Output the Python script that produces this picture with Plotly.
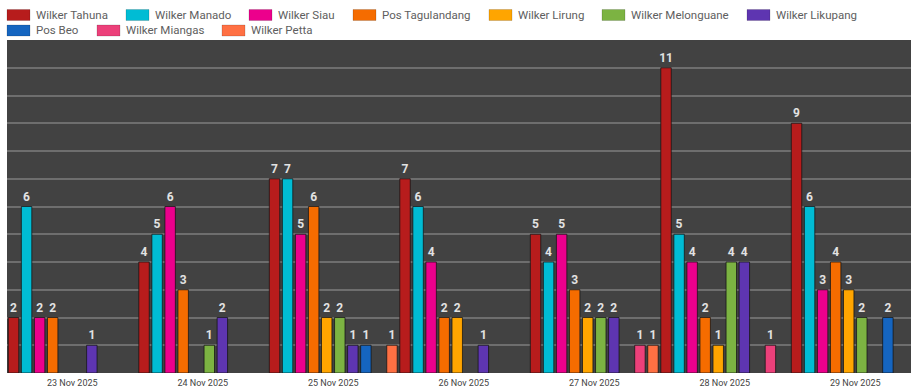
import plotly.graph_objects as go

# Daily counts per post, 23-29 Nov 2025 (None = no entry that day)
dates = ["23 Nov 2025", "24 Nov 2025", "25 Nov 2025", "26 Nov 2025",
         "27 Nov 2025", "28 Nov 2025", "29 Nov 2025"]

wilker_tahuna = [2, 4, 7, 7, 5, 11, 9]
wilker_manado = [6, 5, 7, 6, 4, 5, 6]
wilker_siau = [2, 6, 5, 4, 5, 4, 3]
pos_tagulandang = [2, 3, 6, 2, 3, 2, 4]
wilker_lirung = [None, None, 2, 2, 2, 1, 3]
wilker_melonguane = [None, 1, 2, None, 2, 4, 2]
wilker_likupang = [1, 2, 1, 1, 2, 4, None]
pos_beo = [None, None, 1, None, None, None, 2]
wilker_miangas = [None, None, None, None, 1, 1, None]
wilker_petta = [None, None, 1, None, 1, None, None]

series_names = ["Wilker Tahuna", "Wilker Manado", "Wilker Siau", "Pos Tagulandang",
                "Wilker Lirung", "Wilker Melonguane", "Wilker Likupang",
                "Pos Beo", "Wilker Miangas", "Wilker Petta"]
series_values = [wilker_tahuna, wilker_manado, wilker_siau, pos_tagulandang,
                 wilker_lirung, wilker_melonguane, wilker_likupang,
                 pos_beo, wilker_miangas, wilker_petta]
series_colors = ["#B71C1C", "#00BCD4", "#EC008C", "#F56C00", "#FFA500",
                 "#7CB342", "#5E35B1", "#1565C0", "#EC407A", "#FF7043"]

W, H = 911, 390
ML, MR, MT, MB = 7, 0, 40, 17
PW, PH = W - ML - MR, H - MT - MB
CAT_W = 130.5  # pixel width of one date group

fig = go.Figure()
for name, vals, col in zip(series_names, series_values, series_colors):
    fig.add_trace(go.Bar(
        x=dates, y=vals, name=name,
        marker=dict(color=col, line=dict(color="rgba(20,20,20,0.75)", width=1)),
        text=[("" if v is None else str(v)) for v in vals],
        textposition="outside",
        constraintext="none",
        cliponaxis=False,
        textfont=dict(family="Roboto", size=12, color="#E2E2E2", weight="bold"),
        showlegend=False,
        hoverinfo="x+y+name",
    ))

# Legend drawn as wide swatches with labels, two rows above the plot
legend_rows = [[0, 1, 2, 3, 4, 5, 6], [7, 8, 9]]
legend_x = [[7, 126, 249, 353, 489, 602, 747], [7, 97, 222]]
legend_y = [15, 30.5]


def px_x(p):
    return (p - ML) / PW


def px_y(p):
    return (H - MB - p) / PH


shapes, annotations = [], []
for row, xs, yc in zip(legend_rows, legend_x, legend_y):
    for idx, x0 in zip(row, xs):
        shapes.append(dict(
            type="rect", xref="paper", yref="paper",
            x0=px_x(x0), x1=px_x(x0 + 23), y0=px_y(yc + 5.5), y1=px_y(yc - 5.5),
            fillcolor=series_colors[idx], line=dict(color="rgba(0,0,0,0.15)", width=1),
        ))
        annotations.append(dict(
            xref="paper", yref="paper", x=px_x(x0 + 27), y=px_y(yc),
            text=series_names[idx], showarrow=False, xanchor="left", yanchor="middle",
            font=dict(family="Roboto", size=11.5, color="#5E5E5E"),
        ))

fig.update_layout(
    width=W, height=H,
    margin=dict(l=ML, r=MR, t=MT, b=MB, pad=0),
    paper_bgcolor="white",
    plot_bgcolor="#424242",
    barmode="group",
    bargap=0,
    bargroupgap=0.2,
    shapes=shapes,
    annotations=annotations,
    xaxis=dict(
        type="category",
        range=[-0.5, -0.5 + PW / CAT_W],
        showgrid=False, zeroline=False, showline=False,
        ticks="", ticklabelstandoff=3,
        tickfont=dict(family="Roboto", size=9, color="#444444"),
    ),
    yaxis=dict(
        range=[0, 12], dtick=1,
        showgrid=True, gridcolor="#6E6E6E", gridwidth=2,
        zeroline=False, showticklabels=False, showline=False,
    ),
    font=dict(family="Roboto"),
)

fig.write_html("out.html")
